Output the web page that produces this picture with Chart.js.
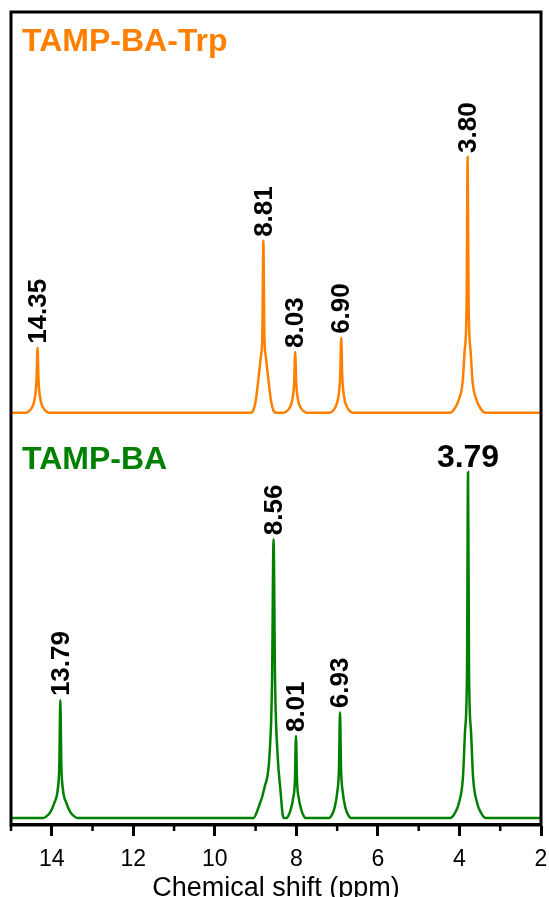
<!DOCTYPE html>
<html>
<head>
<meta charset="utf-8">
<script src="https://cdn.jsdelivr.net/npm/chart.js@4.4.1/dist/chart.umd.min.js"></script>
<style>
  html, body { margin: 0; padding: 0; background: #fff; }
  #wrap { width: 549px; height: 897px; position: relative; }
</style>
</head>
<body>
<div id="wrap"><canvas id="nmr"></canvas></div>
<script>
const FONT = "'Liberation Sans', Arial, Helvetica, sans-serif";

// 1H NMR traces: chemical shift (ppm) and relative intensity (tallest peak = 100)
const trpShift = [
  15.00, 14.65, 14.595, 14.497, 14.424, 14.375, 14.35, 14.325, 14.276, 14.203, 14.105, 14.05,
  9.13, 9.055, 8.994, 8.933, 8.871, 8.835, 8.81, 8.785, 8.749, 8.687, 8.626, 8.565, 8.49,
  8.33, 8.275, 8.177, 8.104, 8.055, 8.03, 8.005, 7.956, 7.883, 7.785, 7.73,
  7.20, 7.145, 7.047, 6.974, 6.925, 6.90, 6.875, 6.826, 6.753, 6.655, 6.60,
  4.24, 4.12, 4.02, 3.923, 3.874, 3.825, 3.80, 3.775, 3.726, 3.677, 3.58, 3.48, 3.36,
  2.00
];
const trpIntensity = [
  0, 0, 0.25, 1.8, 5.1, 12.7, 25.4, 12.7, 5.1, 1.8, 0.25, 0,
  0, 1, 5, 13, 22, 30, 67.2, 30, 22, 13, 5, 1, 0,
  0, 0.24, 1.7, 4.8, 11.9, 23.8, 11.9, 4.8, 1.7, 0.24, 0,
  0, 0.3, 2.1, 5.9, 14.6, 29.3, 14.6, 5.9, 2.1, 0.3, 0,
  0, 1.6, 5, 12, 24, 42, 100, 42, 24, 12, 5, 1.6, 0,
  0
];

const baShift = [
  15.00, 14.207, 14.133, 14.035, 13.937, 13.851, 13.815, 13.79, 13.765, 13.729, 13.643, 13.545, 13.447, 13.373,
  9.05, 8.95, 8.78, 8.658, 8.597, 8.56, 8.523, 8.462, 8.39, 8.33, 8.30,
  8.24, 8.20, 8.14, 8.08, 8.035, 8.01, 7.985, 7.94, 7.88, 7.82, 7.78,
  7.20, 7.13, 7.06, 7.00, 6.955, 6.93, 6.905, 6.86, 6.80, 6.73, 6.66,
  4.23, 4.11, 4.01, 3.913, 3.864, 3.815, 3.79, 3.765, 3.716, 3.667, 3.57, 3.47, 3.35,
  2.00
];
const baIntensity = [
  0, 0, 0.5, 1.7, 4.4, 8.5, 15.3, 34.1, 15.3, 8.5, 4.4, 1.7, 0.5, 0,
  0, 2.4, 8.9, 18.5, 39.5, 80.6, 39.5, 18.5, 8, 0.5, 0,
  0, 0.6, 2.4, 5.7, 11, 23.7, 11, 5.7, 2.4, 0.6, 0,
  0, 0.9, 3.1, 7.3, 14.4, 30.6, 14.4, 7.3, 3.1, 0.9, 0,
  0, 1.5, 4.5, 12, 25, 42, 100, 42, 25, 12, 4.5, 1.5, 0,
  0
];

// assigned peaks (ppm) labelled above each signal
const trpPeaks = [14.35, 8.81, 8.03, 6.90, 3.80];
const baPeaks = [13.79, 8.56, 8.01, 6.93, 3.79];
const baUpright = [false, false, false, false, true];

const majorTicks = [14, 12, 10, 8, 6, 4, 2];
const minorTicks = [15, 13, 11, 9, 7, 5, 3];

const ORANGE = '#ff8000';
const GREEN = '#008000';

const toPoints = (xs, ys) => xs.map((x, i) => ({ x: x, y: ys[i] }));

// frame around the plot plus minor ticks on the shift axis
const framePlugin = {
  id: 'frame',
  afterDatasetsDraw(chart) {
    const { ctx, chartArea: a, scales } = chart;
    ctx.save();
    ctx.strokeStyle = '#000';
    ctx.lineWidth = 3;
    ctx.strokeRect(a.left, a.top, a.right - a.left, a.bottom - a.top);
    ctx.lineWidth = 2.5;
    ctx.beginPath();
    minorTicks.forEach(v => {
      const px = scales.x.getPixelForValue(v);
      ctx.moveTo(px, a.bottom);
      ctx.lineTo(px, a.bottom + 6);
    });
    ctx.stroke();
    ctx.restore();
  }
};

// peak shift labels and trace names
const labelPlugin = {
  id: 'peakLabels',
  afterDatasetsDraw(chart) {
    const { ctx, chartArea: a, scales } = chart;
    const x = scales.x;
    const drawSet = (peaks, shifts, ints, yScale, upright) => {
      peaks.forEach((p, i) => {
        const k = shifts.indexOf(p);
        const px = x.getPixelForValue(p);
        const py = yScale.getPixelForValue(ints[k]);
        const txt = p.toFixed(2);
        ctx.save();
        ctx.fillStyle = '#000';
        if (upright && upright[i]) {
          ctx.font = 'bold 32px ' + FONT;
          ctx.textAlign = 'center';
          ctx.textBaseline = 'alphabetic';
          ctx.fillText(txt, px, py - 5);
        } else {
          ctx.font = 'bold 26px ' + FONT;
          ctx.translate(px, py - 4);
          ctx.rotate(-Math.PI / 2);
          ctx.textAlign = 'left';
          ctx.textBaseline = 'middle';
          ctx.fillText(txt, 0, 1);
        }
        ctx.restore();
      });
    };
    drawSet(trpPeaks, trpShift, trpIntensity, scales.yTrp, null);
    drawSet(baPeaks, baShift, baIntensity, scales.yBa, baUpright);

    ctx.save();
    ctx.font = 'bold 32px ' + FONT;
    ctx.textAlign = 'left';
    ctx.textBaseline = 'alphabetic';
    ctx.fillStyle = ORANGE;
    ctx.fillText('TAMP-BA-Trp', a.left + 11, a.top + 39);
    ctx.fillStyle = GREEN;
    ctx.fillText('TAMP-BA', a.left + 11, a.top + 457);
    ctx.restore();
  }
};

new Chart(document.getElementById('nmr'), {
  type: 'line',
  data: {
    datasets: [
      {
        label: 'TAMP-BA-Trp',
        data: toPoints(trpShift, trpIntensity),
        yAxisID: 'yTrp',
        borderColor: ORANGE,
        borderWidth: 2.5,
        pointRadius: 0,
        fill: false,
        cubicInterpolationMode: 'monotone'
      },
      {
        label: 'TAMP-BA',
        data: toPoints(baShift, baIntensity),
        yAxisID: 'yBa',
        borderColor: GREEN,
        borderWidth: 2.5,
        pointRadius: 0,
        fill: false,
        cubicInterpolationMode: 'monotone'
      }
    ]
  },
  options: {
    responsive: true,
    maintainAspectRatio: false,
    animation: false,
    events: [],
    layout: { padding: { left: 11, right: 8, top: 12, bottom: 0 } },
    plugins: { legend: { display: false }, tooltip: { enabled: false } },
    scales: {
      x: {
        type: 'linear',
        reverse: true,
        min: 2,
        max: 15,
        afterBuildTicks: s => { s.ticks = majorTicks.map(v => ({ value: v })); },
        // the frame already leaves room for the end labels
        afterFit: s => { s.paddingLeft = 0; s.paddingRight = 0; },
        ticks: {
          autoSkip: false,
          maxRotation: 0,
          color: '#000',
          padding: 9,
          font: { family: FONT, size: 23, lineHeight: 1.235 },
          callback: v => String(v)
        },
        grid: {
          drawOnChartArea: false,
          drawTicks: true,
          tickLength: 11,
          tickWidth: 3,
          tickColor: '#000'
        },
        border: { display: true, width: 3, color: '#000' },
        title: {
          display: true,
          text: 'Chemical shift (ppm)',
          color: '#000',
          padding: { top: 0, bottom: 2 },
          font: { family: FONT, size: 27, lineHeight: 0.467 }
        }
      },
      yBa: {
        axis: 'y',
        type: 'linear',
        position: 'left',
        display: false,
        min: -2.0,
        max: 233
      },
      yTrp: {
        axis: 'y',
        type: 'linear',
        position: 'left',
        display: false,
        min: -161,
        max: 156.6
      }
    }
  },
  plugins: [framePlugin, labelPlugin]
});
</script>
</body>
</html>
